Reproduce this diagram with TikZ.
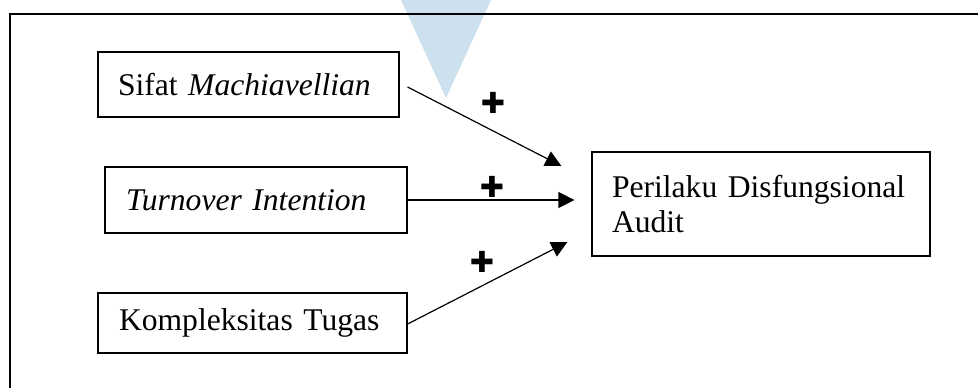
\documentclass[tikz,border=0pt]{standalone}
\usepackage{fontspec}
\setmainfont{Liberation Serif}
\newfontfamily\crossfont{DejaVu Sans}
\usetikzlibrary{arrows.meta}
\definecolor{markblue}{RGB}{204,224,238}

\begin{document}
\begin{tikzpicture}
[x=0.5pt, y=-0.5pt,
 box/.style={rectangle, draw=black, line width=0.6pt, align=left, inner ysep=0pt, font=\fontsize{15.8}{17.5}\selectfont},
 plus/.style={font=\crossfont\bfseries\fontsize{14.5}{14.5}\selectfont, inner sep=0pt},
 arrow/.style={-{Triangle[length=8pt,width=8pt]}, line width=0.6pt}]

\useasboundingbox (0,0) rectangle (978,388);
\fill[markblue] (401,0) -- (491,0) -- (446,98) -- cycle;
\draw[line width=1.15pt] (10,388) -- (10,14) -- (978,14);

%Nodes
\node[box, text width=130.5pt, inner xsep=10pt, minimum height=32.5pt] (sifat) at (248.5,84.5) {Sifat \textit{Machiavellian}};
\node[box, text width=130pt, inner xsep=10.5pt, minimum height=33pt] (turnover) at (256,200) {\textit{Turnover Intention}};
\node[box, text width=133.5pt, inner xsep=10.5pt, minimum height=30pt] (kompleks) at (252.5,323) {Kompleksitas Tugas};
\node[box, text width=149pt, inner xsep=10pt, minimum height=52pt] (perilaku) at (761,204) {Perilaku~Disfungsional\\Audit};

\node[plus] (plusa) at (493,103) {✚};
\node[plus] (plusb) at (492,187) {✚};
\node[plus] (plusc) at (482,262) {✚};

%Lines
\draw[arrow] ([xshift=4pt, yshift=-1.25pt]sifat.east) -- ([xshift=-15pt, yshift=19pt]perilaku.west);
\draw[arrow, shorten >=8.5pt] (turnover.east) -- (turnover.east -| perilaku.west);
\draw[arrow] ([yshift=-0.5pt]kompleks.east) -- ([xshift=-12pt, yshift=-19pt]perilaku.west);

\end{tikzpicture}
\end{document}
